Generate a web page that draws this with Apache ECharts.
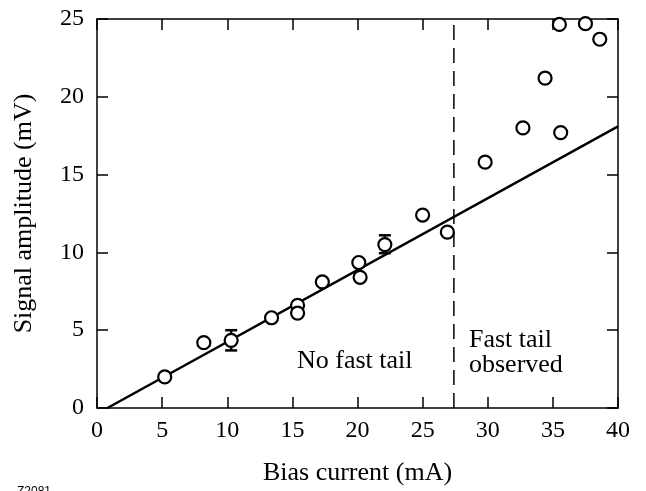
<!DOCTYPE html>
<html>
<head>
<meta charset="utf-8">
<script src="https://cdn.jsdelivr.net/npm/echarts@6/dist/echarts.min.js"></script>
<style>
  html, body { margin: 0; padding: 0; background: #fff; }
  #main { width: 646px; height: 491px; }
</style>
</head>
<body>
<div id="main"></div>
<script>
// measured points (bias current in mA, signal amplitude in mV)
const biasCurrent = [5.2, 8.2, 10.3, 13.4, 15.4, 15.4, 17.3, 20.1, 20.2, 22.1, 25.0, 26.9, 29.8, 32.7, 34.4, 35.6, 35.5, 37.5, 38.6]
const signalAmp = [2.0, 4.2, 4.35, 5.8, 6.6, 6.1, 8.1, 9.35, 8.4, 10.5, 12.4, 11.3, 15.8, 18.0, 21.2, 17.7, 24.65, 24.7, 23.7]

// error bars
const errX = [10.3, 22.1]
const errLow = [3.7, 9.95]
const errHigh = [5.0, 11.1]

// linear fit
const fitX = [0.8, 40]
const fitY = [0, 18.1]

// onset of fast tail
const thresholdX = 27.4

const xTicks = [0, 5, 10, 15, 20, 25, 30, 35, 40]
const yTicks = [0, 5, 10, 15, 20, 25]

const font = 'Liberation Serif, Times New Roman, serif'

const chart = echarts.init(document.getElementById('main'))

const axisBase = {
  type: 'value',
  splitLine: { show: false },
  axisLine: { show: true, onZero: false, lineStyle: { color: '#000', width: 1.5 } },
  axisTick: { show: true, inside: true, length: 11, lineStyle: { color: '#000', width: 1.5 } }
}

const option = {
  backgroundColor: '#fff',
  animation: false,
  grid: { left: 97, right: 28, top: 19, bottom: 74 },
  xAxis: [
    Object.assign({}, axisBase, {
      min: xTicks[0], max: xTicks[xTicks.length - 1], interval: 5,
      position: 'bottom',
      name: 'Bias current (mA)',
      nameLocation: 'middle',
      nameGap: 52,
      nameTextStyle: { fontFamily: font, fontSize: 26, color: '#000' },
      axisLabel: { fontFamily: font, fontSize: 24, color: '#000', margin: 11 }
    }),
    Object.assign({}, axisBase, {
      min: 0, max: 40, interval: 5,
      position: 'top',
      axisLabel: { show: false }
    })
  ],
  yAxis: [
    Object.assign({}, axisBase, {
      min: yTicks[0], max: yTicks[yTicks.length - 1], interval: 5,
      position: 'left',
      name: 'Signal amplitude (mV)',
      nameLocation: 'middle',
      nameGap: 60,
      nameTextStyle: { fontFamily: font, fontSize: 26, color: '#000' },
      axisLabel: { fontFamily: font, fontSize: 24, color: '#000', margin: 13 }
    }),
    Object.assign({}, axisBase, {
      min: 0, max: 25, interval: 5,
      position: 'right',
      axisLabel: { show: false }
    })
  ],
  series: [
    {
      type: 'line',
      data: fitX.map((x, i) => [x, fitY[i]]),
      symbol: 'none',
      lineStyle: { color: '#000', width: 2.5 },
      z: 2
    },
    {
      type: 'line',
      data: [[thresholdX, 0], [thresholdX, 25]],
      symbol: 'none',
      lineStyle: { color: '#000', width: 1.5, type: [15, 8] },
      z: 2
    },
    {
      type: 'custom',
      data: errX.map((x, i) => [x, errLow[i], errHigh[i]]),
      renderItem: function (params, api) {
        const lo = api.coord([api.value(0), api.value(1)])
        const hi = api.coord([api.value(0), api.value(2)])
        const cap = 6
        const style = { stroke: '#000', lineWidth: 2.5 }
        return {
          type: 'group',
          children: [
            { type: 'line', shape: { x1: lo[0], y1: lo[1], x2: hi[0], y2: hi[1] }, style: style },
            { type: 'line', shape: { x1: lo[0] - cap, y1: lo[1], x2: lo[0] + cap, y2: lo[1] }, style: style },
            { type: 'line', shape: { x1: hi[0] - cap, y1: hi[1], x2: hi[0] + cap, y2: hi[1] }, style: style }
          ]
        }
      },
      z: 3
    },
    {
      type: 'scatter',
      data: biasCurrent.map((x, i) => [x, signalAmp[i]]),
      symbol: 'circle',
      symbolSize: 13,
      clip: false,
      itemStyle: { color: '#fff', borderColor: '#000', borderWidth: 2.2, opacity: 1 },
      z: 4
    }
  ],
  graphic: [
    { type: 'text', left: 297, top: 348, style: { text: 'No fast tail', font: '26px ' + font, fill: '#000' } },
    { type: 'text', left: 469, top: 327, style: { text: 'Fast tail\nobserved', font: '26px ' + font, fill: '#000', lineHeight: 25 } },
    { type: 'text', left: 17, top: 486, style: { text: 'Z2081', font: '12px Liberation Sans, sans-serif', fill: '#000' } }
  ]
}

chart.setOption(option)
</script>
</body>
</html>
